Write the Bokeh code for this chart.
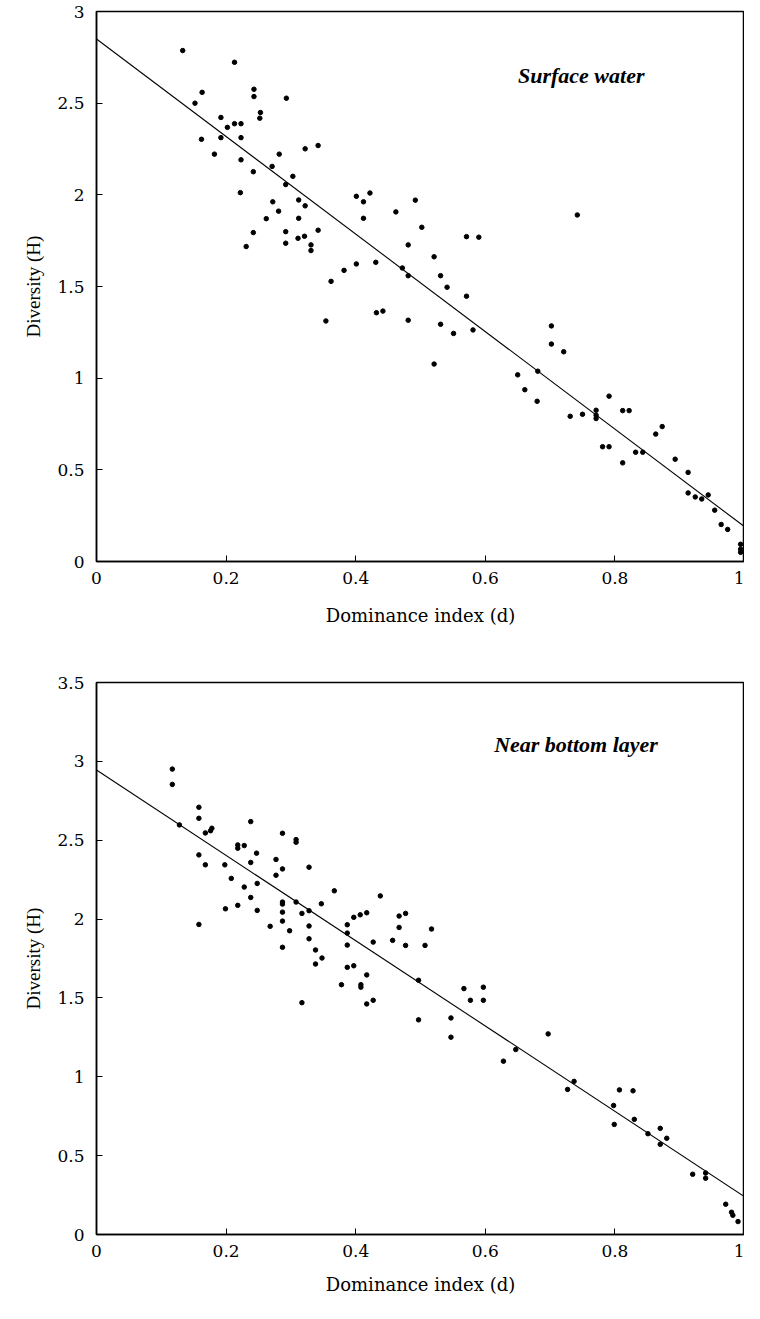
from bokeh.plotting import figure
from bokeh.layouts import column
from bokeh.models import ColumnDataSource, FixedTicker, Label
from bokeh.embed import file_html
from bokeh.resources import INLINE

# ---------------- data ----------------
x_ticks = [0, 0.2, 0.4, 0.6, 0.8, 1]
x_tick_labels = ["0", "0.2", "0.4", "0.6", "0.8", "1"]
top_y_ticks = [0, 0.5, 1, 1.5, 2, 2.5, 3]
top_y_tick_labels = ["0", "0.5", "1", "1.5", "2", "2.5", "3"]
bot_y_ticks = [0, 0.5, 1, 1.5, 2, 2.5, 3, 3.5]
bot_y_tick_labels = ["0", "0.5", "1", "1.5", "2", "2.5", "3", "3.5"]

# Surface water: dominance index (d), diversity (H)
surf_d = [0.133, 0.213, 0.243, 0.243, 0.293, 0.163, 0.152, 0.253, 0.252, 0.192,
          0.213, 0.223, 0.202, 0.162, 0.192, 0.223, 0.322, 0.342, 0.182, 0.282,
          0.223, 0.271, 0.242, 0.303, 0.292, 0.222, 0.401, 0.422, 0.412, 0.492,
          0.272, 0.312, 0.322, 0.281, 0.262, 0.312, 0.412, 0.462, 0.342, 0.292,
          0.242, 0.292, 0.311, 0.321, 0.331, 0.331, 0.231, 0.481, 0.382, 0.401,
          0.431, 0.362, 0.472, 0.481, 0.502, 0.571, 0.590, 0.742, 0.521, 0.531,
          0.541, 0.432, 0.442, 0.354, 0.481, 0.571, 0.531, 0.551, 0.581, 0.521,
          0.702, 0.702, 0.721, 0.650, 0.681, 0.661, 0.680, 0.731, 0.750, 0.771,
          0.771, 0.771, 0.791, 0.812, 0.822, 0.781, 0.791, 0.812, 0.832, 0.843,
          0.863, 0.873, 0.893, 0.913, 0.913, 0.924, 0.934, 0.944, 0.954, 0.964,
          0.974, 0.994, 0.994, 0.994]
surf_h = [2.787, 2.723, 2.576, 2.536, 2.527, 2.559, 2.500, 2.449, 2.418, 2.422,
          2.388, 2.388, 2.368, 2.303, 2.312, 2.312, 2.251, 2.269, 2.222, 2.222,
          2.191, 2.155, 2.126, 2.101, 2.056, 2.012, 1.992, 2.010, 1.962, 1.971,
          1.962, 1.972, 1.940, 1.911, 1.870, 1.872, 1.872, 1.907, 1.807, 1.799,
          1.794, 1.736, 1.763, 1.774, 1.727, 1.696, 1.718, 1.727, 1.588, 1.623,
          1.632, 1.528, 1.601, 1.559, 1.823, 1.772, 1.769, 1.890, 1.662, 1.559,
          1.496, 1.357, 1.366, 1.312, 1.316, 1.447, 1.294, 1.244, 1.263, 1.077,
          1.285, 1.186, 1.144, 1.018, 1.038, 0.937, 0.874, 0.792, 0.803, 0.825,
          0.798, 0.780, 0.902, 0.823, 0.823, 0.626, 0.626, 0.538, 0.596, 0.596,
          0.695, 0.736, 0.558, 0.486, 0.374, 0.352, 0.341, 0.363, 0.280, 0.202,
          0.175, 0.094, 0.067, 0.050]

# Near bottom layer
bot_d = [0.117, 0.117, 0.158, 0.158, 0.128, 0.168, 0.178, 0.176, 0.238, 0.287,
         0.308, 0.308, 0.218, 0.218, 0.228, 0.158, 0.168, 0.198, 0.247, 0.238,
         0.208, 0.228, 0.248, 0.277, 0.287, 0.277, 0.328, 0.238, 0.199, 0.218,
         0.248, 0.287, 0.287, 0.308, 0.287, 0.317, 0.328, 0.347, 0.367, 0.287,
         0.268, 0.298, 0.328, 0.158, 0.287, 0.328, 0.338, 0.348, 0.338, 0.387,
         0.387, 0.397, 0.407, 0.417, 0.438, 0.387, 0.427, 0.457, 0.467, 0.467,
         0.477, 0.477, 0.387, 0.397, 0.417, 0.378, 0.408, 0.408, 0.417, 0.427,
         0.317, 0.497, 0.497, 0.517, 0.507, 0.567, 0.597, 0.577, 0.597, 0.547,
         0.547, 0.697, 0.647, 0.628, 0.737, 0.727, 0.807, 0.828, 0.798, 0.799,
         0.830, 0.851, 0.870, 0.880, 0.870, 0.920, 0.940, 0.940, 0.971, 0.980,
         0.982, 0.990]
bot_h = [2.951, 2.854, 2.709, 2.639, 2.597, 2.546, 2.576, 2.560, 2.618, 2.544,
         2.504, 2.487, 2.470, 2.449, 2.466, 2.407, 2.344, 2.344, 2.418, 2.359,
         2.258, 2.203, 2.226, 2.378, 2.318, 2.278, 2.329, 2.137, 2.065, 2.087,
         2.055, 2.108, 2.095, 2.108, 2.044, 2.036, 2.053, 2.097, 2.179, 1.987,
         1.954, 1.926, 1.956, 1.966, 1.821, 1.875, 1.804, 1.753, 1.715, 1.964,
         1.911, 2.011, 2.027, 2.040, 2.147, 1.835, 1.854, 1.865, 1.947, 2.019,
         2.036, 1.833, 1.694, 1.704, 1.646, 1.584, 1.584, 1.568, 1.462, 1.485,
         1.470, 1.361, 1.612, 1.937, 1.833, 1.559, 1.568, 1.485, 1.485, 1.373,
         1.251, 1.272, 1.173, 1.099, 0.971, 0.920, 0.917, 0.911, 0.818, 0.698,
         0.730, 0.639, 0.673, 0.610, 0.572, 0.382, 0.390, 0.357, 0.192, 0.141,
         0.122, 0.082]

# Regression lines (end points)
fit_d = [0, 1]
surf_fit_h = [2.85, 0.19]
bot_fit_h = [2.945, 0.24]

SERIF = "DejaVu Serif"


def make_panel(xs, ys, fx, fy, y_max, y_ticks, y_labels, title, title_x, title_y,
               border_top, frame_h, border_bottom, xlabel_standoff):
    p = figure(frame_width=648, frame_height=frame_h,
               x_range=(0, 1), y_range=(0, y_max),
               output_backend="svg", toolbar_location=None,
               min_border_left=96, min_border_right=0,
               min_border_top=border_top, min_border_bottom=border_bottom,
               background_fill_color="white", border_fill_color="white")
    p.xgrid.visible = False
    p.ygrid.visible = False
    p.outline_line_color = "black"
    p.outline_line_width = 1.5
    p.outline_line_alpha = 1.0

    p.xaxis.ticker = FixedTicker(ticks=x_ticks)
    p.xaxis.major_label_overrides = {t: l for t, l in zip(x_ticks, x_tick_labels)}
    p.yaxis.ticker = FixedTicker(ticks=y_ticks)
    p.yaxis.major_label_overrides = {t: l for t, l in zip(y_ticks, y_labels)}

    for ax in (p.xaxis[0], p.yaxis[0]):
        ax.axis_line_color = "black"
        ax.axis_line_width = 1.5
        ax.major_tick_in = 6
        ax.major_tick_out = 0
        ax.major_tick_line_color = "black"
        ax.minor_tick_line_color = None
        ax.major_label_text_font = SERIF
        ax.major_label_text_font_size = "17px"
        ax.major_label_text_color = "black"
        ax.axis_label_text_color = "black"
        ax.axis_label_text_font_style = "normal"

    p.xaxis.axis_label = "Dominance index (d)"
    p.xaxis.axis_label_text_font = SERIF
    p.xaxis.axis_label_text_font_size = "18px"
    p.xaxis.major_label_standoff = 10
    p.xaxis.axis_label_standoff = xlabel_standoff

    p.yaxis.axis_label = "Diversity (H)"
    p.yaxis.axis_label_text_font = "Liberation Serif"
    p.yaxis.axis_label_text_font_size = "19px"
    p.yaxis.major_label_standoff = 12
    p.yaxis.axis_label_standoff = 10

    src = ColumnDataSource(dict(d=xs, h=ys))
    p.scatter("d", "h", source=src, marker="circle", size=4.5,
              fill_color="black", line_color="black")
    p.line(fx, fy, line_color="black", line_width=1.1)

    p.add_layout(Label(x=title_x, y=title_y, text=title,
                       text_font="Liberation Serif", text_font_style="bold italic",
                       text_font_size="22px", text_align="center",
                       text_baseline="middle", text_color="black"))
    return p


p1 = make_panel(surf_d, surf_h, fit_d, surf_fit_h, 3, top_y_ticks, top_y_tick_labels,
                "Surface water", 0.748, 2.65, 11, 550, 95, 18)
p2 = make_panel(bot_d, bot_h, fit_d, bot_fit_h, 3.5, bot_y_ticks, bot_y_tick_labels,
                "Near bottom layer", 0.74, 3.11, 26, 552, 69, 14)

layout = column(p1, p2, spacing=0)
open("out.html", "w").write(file_html(layout, INLINE))
